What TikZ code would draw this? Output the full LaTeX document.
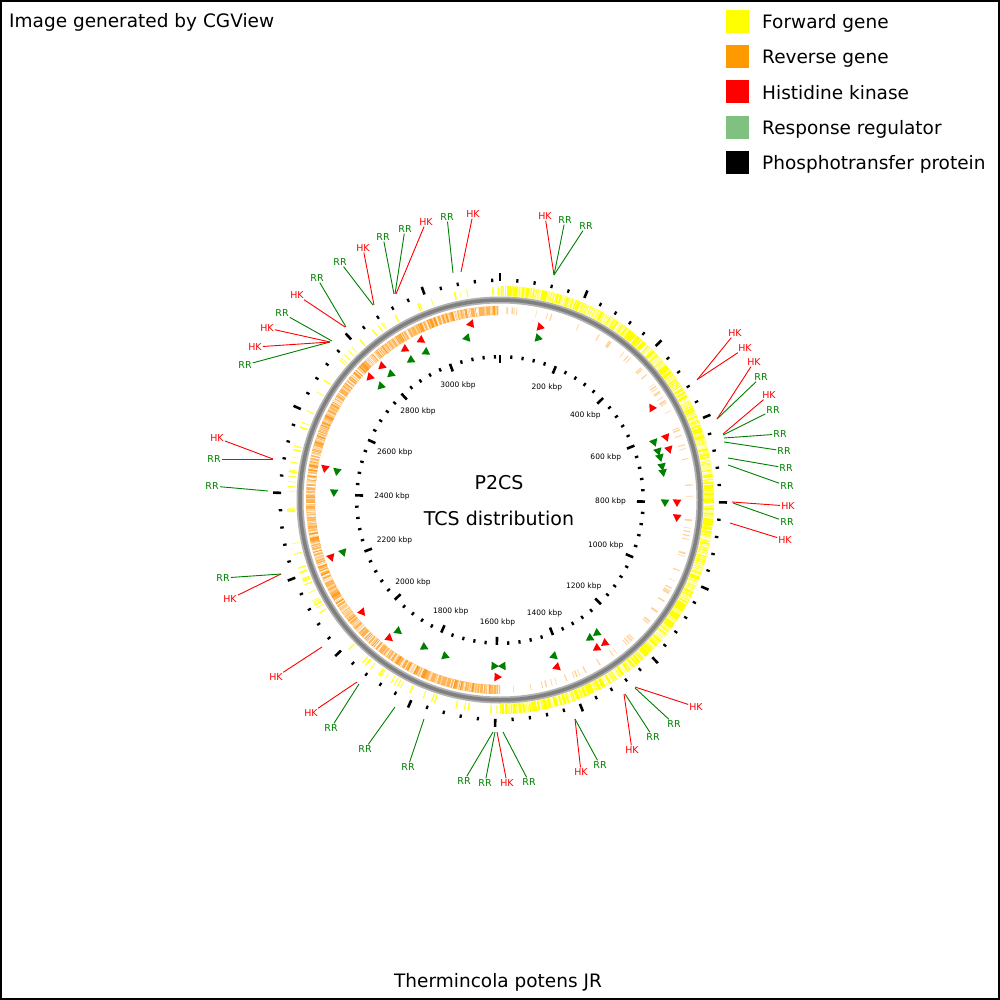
\documentclass[tikz,border=0pt]{standalone}
\usepackage{fontspec}
\setmainfont{DejaVu Sans}
\usetikzlibrary{shapes.geometric}
\definecolor{fwdY}{RGB}{255,255,0}
\definecolor{fwdL}{RGB}{255,255,150}
\definecolor{revO}{RGB}{255,180,85}
\definecolor{revD}{RGB}{255,155,30}
\definecolor{revL}{RGB}{255,215,160}
\definecolor{legO}{RGB}{255,153,0}
\definecolor{legG}{RGB}{128,192,128}
\definecolor{hkR}{RGB}{255,0,0}
\definecolor{rrG}{RGB}{0,128,0}
\begin{document}
\begin{tikzpicture}[x=1pt,y=-1pt,
  lblHK/.style={text=hkR, font=\fontsize{9.5}{10}\selectfont, inner sep=1pt},
  lblRR/.style={text=rrG, font=\fontsize{9.5}{10}\selectfont, inner sep=1pt},
  lineHK/.style={draw=hkR, line width=0.9pt},
  lineRR/.style={draw=rrG, line width=0.9pt},
  legbox/.style={minimum size=23pt, inner sep=0pt, draw=none},
  legtext/.style={font=\fontsize{18.5}{20}\selectfont, anchor=base west, inner sep=0pt},
  kbplabel/.style={font=\fontsize{7.5}{8}\selectfont, inner sep=1pt},
  tri/.style={regular polygon, regular polygon sides=3, minimum size=10pt, inner sep=0pt},
]
\useasboundingbox (0,0) rectangle (1000,1000);
\fill[white] (0,0) rectangle (1000,1000);
\draw[line width=2pt] (1,1) rectangle (999,999);

% header / footer
\node[legtext] (credit) at (9,28) {Image generated by CGView};
\node[font=\fontsize{18.5}{20}\selectfont, anchor=base, inner sep=0pt] (org) at (498,987) {Thermincola potens JR};

% legend
\node[legbox, fill=fwdY]  (sq1) at (737.5,21.5) {};
\node[legbox, fill=legO]  (sq2) at (737.5,56.8) {};
\node[legbox, fill=hkR]   (sq3) at (737.5,92.0) {};
\node[legbox, fill=legG]  (sq4) at (737.5,127.3) {};
\node[legbox, fill=black] (sq5) at (737.5,162.5) {};
\node[legtext] (lg1) at (762,28.5) {Forward gene};
\node[legtext] (lg2) at (762,64) {Reverse gene};
\node[legtext] (lg3) at (762,99.3) {Histidine kinase};
\node[legtext] (lg4) at (762,134.8) {Response regulator};
\node[legtext] (lg5) at (762,170) {Phosphotransfer protein};

% centre title
\node[font=\fontsize{19}{21}\selectfont, inner sep=0pt] (t1) at (499,483) {P2CS};
\node[font=\fontsize{19}{21}\selectfont, inner sep=0pt] (t2) at (499,518) {TCS distribution};

\begin{scope}[shift={(500,500)}]
\pgfmathsetseed{7}
% forward ring: dense half
\fill[fwdY] (-90:204) arc[start angle=-90, end angle=90, radius=204] -- (90:214) arc[start angle=90, end angle=-90, radius=214] -- cycle;
\foreach \i in {1,...,220}{%
  \pgfmathsetmacro\a{-90+rnd*180}\pgfmathsetmacro\w{0.4+1.2*rnd}%
  \draw[fwdL, line width=\w] (\a:204) -- (\a:214);}
\foreach \i in {1,...,200}{%
  \pgfmathsetmacro\a{-90+rnd*180}\pgfmathsetmacro\w{0.25+0.6*rnd}%
  \draw[white, line width=\w] (\a:204) -- (\a:214);}
% forward ring: sparse half
\foreach \i in {1,...,85}{%
  \pgfmathsetmacro\a{90+rnd*180}\pgfmathsetmacro\w{0.4+1.1*rnd}%
  \draw[fwdY!85!white, line width=\w] (\a:205) -- (\a:213);}
% reverse ring: dense half
\fill[revO] (90:185) arc[start angle=90, end angle=269.5, radius=185] -- (269.5:194) arc[start angle=269.5, end angle=90, radius=194] -- cycle;
\foreach \i in {1,...,150}{%
  \pgfmathsetmacro\a{90+rnd*179.5}\pgfmathsetmacro\w{0.4+1.4*rnd}%
  \draw[revD, line width=\w] (\a:185) -- (\a:194);}
\foreach \i in {1,...,180}{%
  \pgfmathsetmacro\a{90+rnd*179.5}\pgfmathsetmacro\w{0.4+1.2*rnd}%
  \draw[revL, line width=\w] (\a:185) -- (\a:194);}
\foreach \i in {1,...,160}{%
  \pgfmathsetmacro\a{90+rnd*179.5}\pgfmathsetmacro\w{0.25+0.5*rnd}%
  \draw[white, line width=\w] (\a:185) -- (\a:194);}
% reverse ring: sparse half
\foreach \i in {1,...,80}{%
  \pgfmathsetmacro\a{-90+rnd*180}\pgfmathsetmacro\w{0.4+1.0*rnd}%
  \draw[revO!60!white, line width=\w] (\a:186) -- (\a:193);}
% backbone
\draw[black!30, line width=7pt] (0,0) circle[radius=200];
\draw[black!50, line width=3.5pt] (0,0) circle[radius=200];
% rulers
\foreach \k in {0,...,79}{%
  \pgfmathsetmacro\a{\k*40/3178*360-90}%
  \pgfmathtruncatemacro\m{mod(\k,5)}%
  \ifnum\m=0
    \draw[line width=2.6pt] (\a:219) -- (\a:227);
    \draw[line width=2.6pt] (\a:137) -- (\a:145);
  \else
    \draw[line width=2.2pt] (\a:218) -- (\a:221.5);
    \draw[line width=2.2pt] (\a:141.5) -- (\a:145);
  \fi}
\foreach \m in {1,...,15}{%
  \pgfmathsetmacro\th{\m*200/3178*360}%
  \pgfmathsetmacro\ph{\th-90}%
  \pgfmathsetmacro\an{mod(450-\th,360)}%
  \pgfmathtruncatemacro\v{\m*200}%
  \node[kbplabel, anchor=\an] (k\m) at (\ph:127) {\v\ kbp};}
\end{scope}

% TCS markers (offset -180 = forward/clockwise, 0 = reverse)
\foreach \x/\y/\c/\o [count=\i] in {
 540/327/hkR/-180, 471/324/hkR/0, 421/340/hkR/0, 405/349/hkR/0, 382/366/hkR/0,
 370/377/hkR/0, 325/468/hkR/0, 331/557/hkR/0, 362/612/hkR/0, 389/638/hkR/0,
 497/677/hkR/0, 557/667/hkR/-180, 597/648/hkR/-180, 605/643/hkR/-180,
 677/502/hkR/-180, 677/517/hkR/-180, 669/449/hkR/-180, 666/437/hkR/-180, 652/408/hkR/0,
 538/338/rrG/-180, 467/338/rrG/0, 426/352/rrG/0, 411/360/rrG/0, 391/374/rrG/0,
 381/386/rrG/0, 337/471/rrG/0, 334/492/rrG/0, 343/552/rrG/0, 398/631/rrG/0,
 424/647/rrG/0, 445/656/rrG/0, 494/666/rrG/0, 503/666/rrG/-180, 554/656/rrG/-180,
 590/638/rrG/-180, 597/633/rrG/-180, 665/502/rrG/-180, 662/466/rrG/-180,
 663/472/rrG/-180, 658/451/rrG/-180, 660/457/rrG/-180, 654/442/rrG/-180}{%
  \pgfmathsetmacro\pp{atan2(500-\y,\x-500)+\o}%
  \node[tri, fill=\c, shape border rotate=\pp] (tr\i) at (\x,\y) {};}

% labels with leader lines
\foreach \t/\lx/\ly/\ax/\ay [count=\i] in {
 RR/245/365/330/342, HK/255/347/330/342, HK/267/328/330/342, RR/282/313/332/341,
 HK/297/295/345/327, RR/317/278/346/327, RR/340/262/373/305, HK/363/248/374/305,
 RR/383/237/394/294, RR/405/229/395/294, HK/426/222/396/294, RR/447/217/453/273,
 HK/473/214/461/272, HK/545/216/554/275, RR/565/220/554/275, RR/586/226/554/275,
 HK/735/333/697/380, HK/745/348/698/379, HK/754/362/717/419, RR/761/377/717/419,
 HK/769/395/723/434, RR/773/410/723/435, RR/780/434/724/438, RR/784/451/724/442,
 RR/786/468/728/458, RR/787/486/728/465, HK/788/506/732/502, RR/787/522/733/503,
 HK/785/540/730/523, HK/696/707/635/687, RR/674/724/635/688, RR/653/737/625/694,
 HK/632/750/624/694, RR/600/765/575/719, HK/581/772/575/719, RR/529/782/503/732,
 HK/507/783/497/732, RR/485/783/495/732, RR/464/781/493/732, RR/408/767/424/719,
 RR/365/749/395/707, RR/331/728/359/684, HK/311/713/357/682, HK/276/677/322/647,
 HK/230/599/281/574, RR/223/578/281/574, RR/212/486/268/491, RR/214/459/273/459,
 HK/217/438/273/459}{%
  \coordinate (a\i) at (\ax,\ay);
  \node[lbl\t] (l\i) at (\lx,\ly) {\t};
  \draw[line\t] (a\i) -- (l\i);}
\end{tikzpicture}
\end{document}
